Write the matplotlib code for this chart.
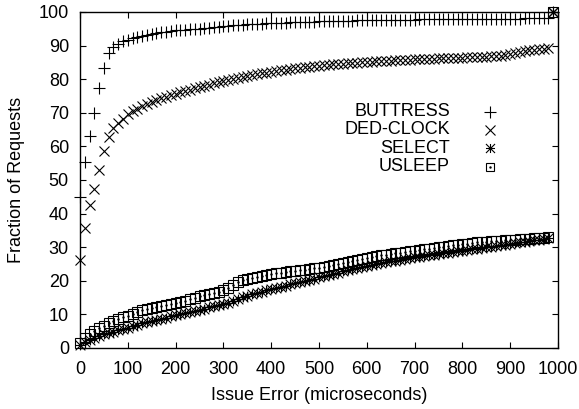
import numpy as np
import matplotlib.pyplot as plt
from matplotlib.path import Path

plt.rcParams['font.family'] = ['Liberation Sans', 'DejaVu Sans']

# Issue error buckets (microseconds), one sample every 10 us
issue_error = np.arange(0, 1000, 10)

# Cumulative fraction of requests (%) per bucket
buttress = [
    45.0, 55.5, 63.0, 70.0, 77.3, 83.4, 87.7, 89.5, 90.6, 91.3,
    91.8, 92.2, 92.6, 92.9, 93.2, 93.5, 93.7, 93.9, 94.1, 94.3,
    94.5, 94.6, 94.7, 94.8, 94.9, 95.0, 95.2, 95.3, 95.5, 95.6,
    95.8, 95.9, 96.0, 96.1, 96.2, 96.3, 96.4, 96.5, 96.5, 96.6,
    96.6, 96.7, 96.8, 96.8, 96.9, 96.9, 97.0, 97.0, 97.1, 97.1,
    97.2, 97.2, 97.3, 97.3, 97.3, 97.4, 97.4, 97.4, 97.5, 97.5,
    97.5, 97.5, 97.6, 97.6, 97.6, 97.6, 97.7, 97.7, 97.7, 97.7,
    97.7, 97.8, 97.8, 97.8, 97.8, 97.8, 97.8, 97.9, 97.9, 97.9,
    97.9, 97.9, 97.9, 97.9, 98.0, 98.0, 98.0, 98.0, 98.0, 98.0,
    98.0, 98.0, 98.0, 98.1, 98.1, 98.1, 98.1, 98.1, 98.1, 100.0,
]
ded_clock = [
    26.2, 35.6, 42.6, 47.2, 53.0, 58.7, 62.9, 65.4, 67.0, 68.3,
    69.5, 70.4, 71.2, 71.9, 72.6, 73.2, 73.8, 74.3, 74.8, 75.3,
    75.7, 76.1, 76.5, 76.9, 77.3, 77.7, 78.1, 78.4, 78.8, 79.1,
    79.4, 79.7, 80.0, 80.3, 80.6, 80.9, 81.2, 81.4, 81.7, 81.9,
    82.2, 82.4, 82.6, 82.8, 83.0, 83.2, 83.4, 83.6, 83.7, 83.9,
    84.0, 84.1, 84.3, 84.4, 84.5, 84.6, 84.7, 84.8, 84.9, 85.0,
    85.1, 85.2, 85.3, 85.4, 85.4, 85.5, 85.6, 85.7, 85.7, 85.8,
    85.9, 85.9, 86.0, 86.1, 86.1, 86.2, 86.2, 86.3, 86.3, 86.4,
    86.4, 86.5, 86.5, 86.6, 86.6, 86.7, 86.8, 86.9, 87.0, 87.2,
    87.5, 87.8, 88.1, 88.4, 88.6, 88.8, 89.0, 89.1, 89.3, 100.0,
]
select = [
    1.0, 1.8, 2.5, 3.1, 3.6, 4.1, 4.5, 4.9, 5.3, 5.7,
    6.1, 6.5, 6.9, 7.3, 7.6, 8.0, 8.3, 8.7, 9.0, 9.4,
    9.7, 10.1, 10.4, 10.7, 11.1, 11.4, 11.7, 12.1, 12.4, 12.7,
    13.1, 13.5, 14.0, 14.6, 15.1, 15.6, 16.0, 16.4, 16.8, 17.2,
    17.5, 17.9, 18.2, 18.5, 18.9, 19.2, 19.6, 19.9, 20.3, 20.6,
    21.0, 21.4, 21.7, 22.1, 22.4, 22.8, 23.1, 23.5, 23.8, 24.2,
    24.5, 24.8, 25.0, 25.3, 25.5, 25.8, 26.0, 26.3, 26.5, 26.8,
    27.0, 27.2, 27.4, 27.6, 27.8, 28.0, 28.2, 28.4, 28.6, 28.8,
    29.0, 29.2, 29.4, 29.6, 29.8, 30.0, 30.2, 30.4, 30.6, 30.8,
    31.0, 31.2, 31.4, 31.6, 31.8, 32.0, 32.2, 32.4, 32.6, 100.0,
]
usleep = [
    1.5, 3.0, 4.2, 5.0, 5.9, 6.6, 7.3, 7.9, 8.5, 9.1,
    9.6, 10.2, 10.7, 11.2, 11.6, 11.9, 12.2, 12.5, 12.8, 13.1,
    13.4, 13.7, 14.1, 14.6, 15.0, 15.4, 15.8, 16.1, 16.4, 16.8,
    17.3, 18.0, 18.8, 19.5, 20.1, 20.5, 20.8, 21.1, 21.4, 21.7,
    22.0, 22.2, 22.4, 22.6, 22.8, 23.0, 23.1, 23.3, 23.5, 23.7,
    23.9, 24.2, 24.5, 24.8, 25.1, 25.4, 25.7, 26.0, 26.3, 26.6,
    26.9, 27.1, 27.3, 27.6, 27.8, 28.0, 28.2, 28.4, 28.6, 28.8,
    29.0, 29.2, 29.4, 29.6, 29.8, 30.0, 30.2, 30.4, 30.6, 30.8,
    31.0, 31.1, 31.2, 31.4, 31.5, 31.6, 31.7, 31.8, 31.9, 32.0,
    32.1, 32.2, 32.3, 32.4, 32.5, 32.6, 32.7, 32.8, 32.9, 100.0,
]

labels = ["BUTTRESS", "DED-CLOCK", "SELECT", "USLEEP"]

# gnuplot style "star": a plus and a cross on top of each other
star = Path(
    [(-1, 0), (1, 0), (0, -1), (0, 1), (-1, -1), (1, 1), (-1, 1), (1, -1)],
    [Path.MOVETO, Path.LINETO] * 4,
)

# point styles for the data and (smaller) for the key
styles = [
    dict(marker="+", ms=9, mew=0.8),
    dict(marker="x", ms=7, mew=0.8),
    dict(marker=star, ms=7, mew=0.8),
    dict(marker="s", ms=7, mew=0.8, mfc="none"),
]
key_sizes = [8, 6.5, 6.5, 6]

fig = plt.figure(figsize=(5.79, 4.09), dpi=100)
ax = fig.add_axes([80 / 579, 1 - 348 / 409, 478 / 579, 336 / 409])

for series, st in zip([buttress, ded_clock, select, usleep], styles):
    ax.plot(issue_error, series, ls="none", color="black", clip_on=False, **st)
# gnuplot boxes carry a dot in the middle
ax.plot(issue_error, usleep, ls="none", marker=".", ms=1.5, color="black")

# key: labels right aligned, symbol to the right
text_x, mark_x = 0.774, 0.858
rows = [0.703, 0.649, 0.594, 0.540]
for lab, st, ks, y in zip(labels, styles, key_sizes, rows):
    ax.text(text_x, y, lab, ha="right", va="center", fontsize=13,
            transform=ax.transAxes)
    ax.plot([mark_x], [y], color="black", transform=ax.transAxes,
            **{**st, "ms": ks})
ax.plot([mark_x], [rows[3]], marker=".", ms=1.5, color="black",
        transform=ax.transAxes)

ax.set_xlim(0, 1000)
ax.set_ylim(0, 100)
ax.set_xticks(np.arange(0, 1001, 100))
ax.set_yticks(np.arange(0, 101, 10))
ax.tick_params(direction="in", top=True, right=True, length=4, width=0.8,
               labelsize=13)
ax.tick_params(axis="x", pad=9)
ax.tick_params(axis="y", pad=8)
for sp in ax.spines.values():
    sp.set_linewidth(1.0)

ax.set_xlabel("Issue Error (microseconds)", fontsize=13, labelpad=7)
ax.set_ylabel("Fraction of Requests", fontsize=13, labelpad=10)

fig.savefig("out.png", dpi=100)
